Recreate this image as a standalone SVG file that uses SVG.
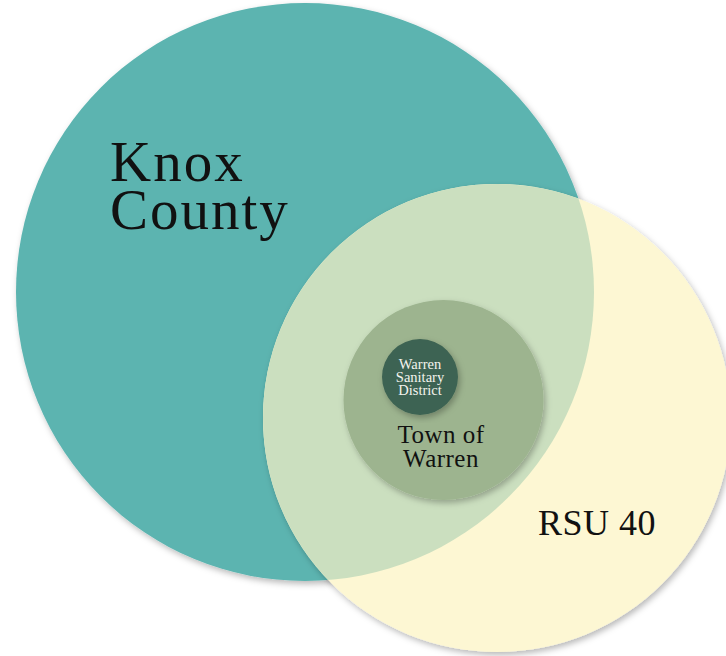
<svg xmlns="http://www.w3.org/2000/svg" width="726" height="656" viewBox="0 0 726 656">
<defs>
<filter id="sh" x="-10%" y="-10%" width="120%" height="120%">
<feDropShadow dx="2" dy="3" stdDeviation="3" flood-color="#000" flood-opacity="0.28"/>
</filter>
<clipPath id="rsuClip"><circle cx="497" cy="418" r="234"/></clipPath>
</defs>
<style>
.lbl{font-family:"Liberation Serif","Times New Roman",serif;fill:#111;text-anchor:middle}
.big{font-size:57px;text-anchor:start;letter-spacing:2px}
.wsd{font-size:14.5px;fill:#f4f4ee}
</style>
<rect width="726" height="656" fill="#fff"/>
<g id="knox-county">
<circle cx="305" cy="292" r="289" fill="#5BB4B0" filter="url(#sh)"/>
</g>
<g id="rsu-40">
<circle cx="497" cy="418" r="234" fill="#FDF7D3" filter="url(#sh)"/>
<circle cx="305" cy="292" r="289" fill="#CBDFBF" clip-path="url(#rsuClip)"/>
<text class="lbl" x="597" y="535" font-size="36" letter-spacing="0.5">RSU 40</text>
</g>
<g id="knox-label">
<text class="lbl big" x="110" y="181">Knox</text>
<text class="lbl big" x="110" y="229">County</text>
</g>
<g id="town-of-warren">
<circle cx="443.5" cy="400" r="100" fill="#9DB48F" filter="url(#sh)"/>
<text class="lbl" x="441" y="443" font-size="25" letter-spacing="0.5">Town of</text>
<text class="lbl" x="441" y="467" font-size="25" letter-spacing="0.5">Warren</text>
</g>
<g id="warren-sanitary-district">
<circle cx="420" cy="377" r="38" fill="#3E6352" filter="url(#sh)"/>
<text class="lbl wsd" x="420" y="369">Warren</text>
<text class="lbl wsd" x="420" y="382">Sanitary</text>
<text class="lbl wsd" x="420" y="395">District</text>
</g>
<g id="connectors"/>
</svg>
